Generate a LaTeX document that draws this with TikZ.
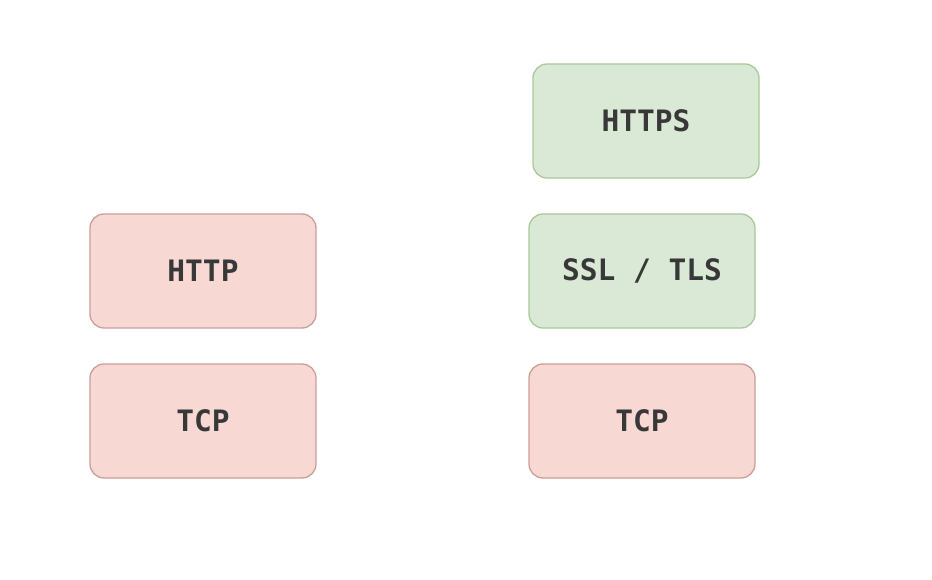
\documentclass[tikz,border=0pt]{standalone}
\usepackage{fontspec}
\setmonofont{DejaVu Sans Mono}
\begin{document}
\begin{tikzpicture}[x=1pt,y=-1pt]
  \definecolor{redfill}{HTML}{F8D8D3}
  \definecolor{reddraw}{HTML}{CC9E98}
  \definecolor{greenfill}{HTML}{DAE8D6}
  \definecolor{greendraw}{HTML}{A9C99B}
  \definecolor{labelcolor}{HTML}{383838}
  \tikzset{layer/.style={rounded corners=14pt,minimum width=226pt,minimum height=114pt,
    line width=1.3pt,text=labelcolor,font=\ttfamily\bfseries\fontsize{29.5}{32}\selectfont}}
  \useasboundingbox [fill=white] (0,0) rectangle (932,580);
  % plain HTTP stack
  \node [layer,fill=redfill,draw=reddraw] (http) at (203,271) {HTTP};
  \node [layer,fill=redfill,draw=reddraw] (tcpa) at (203,421) {TCP};
  % HTTPS stack
  \node [layer,fill=greenfill,draw=greendraw] (https) at (646,121) {HTTPS};
  \node [layer,fill=greenfill,draw=greendraw] (ssl) at (642,271) {SSL / TLS};
  \node [layer,fill=redfill,draw=reddraw] (tcpb) at (642,421) {TCP};
\end{tikzpicture}
\end{document}
